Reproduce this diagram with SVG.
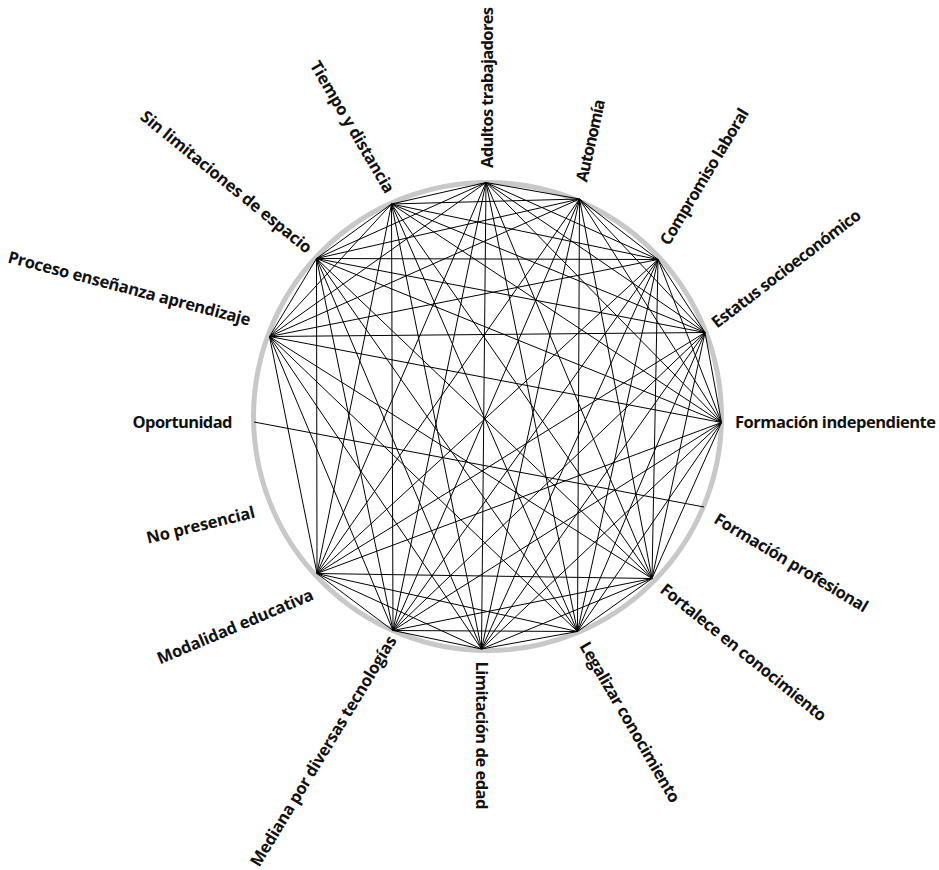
<svg xmlns="http://www.w3.org/2000/svg" width="939" height="870" viewBox="0 0 939 870">
<style>
.bg{fill:#fff}
.ring{fill:none;stroke:#c8c8c8;stroke-width:5}
.e line{stroke:#000;stroke-width:1;fill:none}
.lbl{font-family:"Open Sans","Liberation Sans",sans-serif;font-weight:700;font-size:16.5px;fill:#111;text-anchor:middle}
</style>
<rect class="bg" x="0" y="0" width="939" height="870"/>
<circle class="ring" cx="487.5" cy="416.5" r="234"/>
<g id="connectors" class="e">
<line x1="486" y1="182.5" x2="579.5" y2="199"/>
<line x1="486" y1="182.5" x2="658" y2="259.5"/>
<line x1="486" y1="182.5" x2="705" y2="332.5"/>
<line x1="486" y1="182.5" x2="721.5" y2="422.5"/>
<line x1="486" y1="182.5" x2="652" y2="578.5"/>
<line x1="486" y1="182.5" x2="577.5" y2="631.5"/>
<line x1="486" y1="182.5" x2="481.5" y2="649"/>
<line x1="486" y1="182.5" x2="393" y2="630.5"/>
<line x1="486" y1="182.5" x2="317" y2="573.5"/>
<line x1="486" y1="182.5" x2="269.5" y2="336.5"/>
<line x1="486" y1="182.5" x2="316.5" y2="258.5"/>
<line x1="486" y1="182.5" x2="391.5" y2="204"/>
<line x1="579.5" y1="199" x2="658" y2="259.5"/>
<line x1="579.5" y1="199" x2="705" y2="332.5"/>
<line x1="579.5" y1="199" x2="721.5" y2="422.5"/>
<line x1="579.5" y1="199" x2="652" y2="578.5"/>
<line x1="579.5" y1="199" x2="577.5" y2="631.5"/>
<line x1="579.5" y1="199" x2="481.5" y2="649"/>
<line x1="579.5" y1="199" x2="393" y2="630.5"/>
<line x1="579.5" y1="199" x2="317" y2="573.5"/>
<line x1="579.5" y1="199" x2="269.5" y2="336.5"/>
<line x1="579.5" y1="199" x2="316.5" y2="258.5"/>
<line x1="579.5" y1="199" x2="391.5" y2="204"/>
<line x1="658" y1="259.5" x2="705" y2="332.5"/>
<line x1="658" y1="259.5" x2="721.5" y2="422.5"/>
<line x1="658" y1="259.5" x2="652" y2="578.5"/>
<line x1="658" y1="259.5" x2="577.5" y2="631.5"/>
<line x1="658" y1="259.5" x2="481.5" y2="649"/>
<line x1="658" y1="259.5" x2="393" y2="630.5"/>
<line x1="658" y1="259.5" x2="317" y2="573.5"/>
<line x1="658" y1="259.5" x2="269.5" y2="336.5"/>
<line x1="658" y1="259.5" x2="316.5" y2="258.5"/>
<line x1="658" y1="259.5" x2="391.5" y2="204"/>
<line x1="705" y1="332.5" x2="721.5" y2="422.5"/>
<line x1="705" y1="332.5" x2="652" y2="578.5"/>
<line x1="705" y1="332.5" x2="577.5" y2="631.5"/>
<line x1="705" y1="332.5" x2="481.5" y2="649"/>
<line x1="705" y1="332.5" x2="393" y2="630.5"/>
<line x1="705" y1="332.5" x2="317" y2="573.5"/>
<line x1="705" y1="332.5" x2="269.5" y2="336.5"/>
<line x1="705" y1="332.5" x2="316.5" y2="258.5"/>
<line x1="705" y1="332.5" x2="391.5" y2="204"/>
<line x1="721.5" y1="422.5" x2="652" y2="578.5"/>
<line x1="721.5" y1="422.5" x2="577.5" y2="631.5"/>
<line x1="721.5" y1="422.5" x2="481.5" y2="649"/>
<line x1="721.5" y1="422.5" x2="393" y2="630.5"/>
<line x1="721.5" y1="422.5" x2="317" y2="573.5"/>
<line x1="721.5" y1="422.5" x2="269.5" y2="336.5"/>
<line x1="721.5" y1="422.5" x2="316.5" y2="258.5"/>
<line x1="721.5" y1="422.5" x2="391.5" y2="204"/>
<line x1="652" y1="578.5" x2="577.5" y2="631.5"/>
<line x1="652" y1="578.5" x2="481.5" y2="649"/>
<line x1="652" y1="578.5" x2="393" y2="630.5"/>
<line x1="652" y1="578.5" x2="317" y2="573.5"/>
<line x1="652" y1="578.5" x2="269.5" y2="336.5"/>
<line x1="652" y1="578.5" x2="316.5" y2="258.5"/>
<line x1="652" y1="578.5" x2="391.5" y2="204"/>
<line x1="577.5" y1="631.5" x2="481.5" y2="649"/>
<line x1="577.5" y1="631.5" x2="393" y2="630.5"/>
<line x1="577.5" y1="631.5" x2="317" y2="573.5"/>
<line x1="577.5" y1="631.5" x2="269.5" y2="336.5"/>
<line x1="577.5" y1="631.5" x2="316.5" y2="258.5"/>
<line x1="577.5" y1="631.5" x2="391.5" y2="204"/>
<line x1="481.5" y1="649" x2="393" y2="630.5"/>
<line x1="481.5" y1="649" x2="317" y2="573.5"/>
<line x1="481.5" y1="649" x2="269.5" y2="336.5"/>
<line x1="481.5" y1="649" x2="316.5" y2="258.5"/>
<line x1="481.5" y1="649" x2="391.5" y2="204"/>
<line x1="393" y1="630.5" x2="317" y2="573.5"/>
<line x1="393" y1="630.5" x2="269.5" y2="336.5"/>
<line x1="393" y1="630.5" x2="316.5" y2="258.5"/>
<line x1="393" y1="630.5" x2="391.5" y2="204"/>
<line x1="317" y1="573.5" x2="269.5" y2="336.5"/>
<line x1="317" y1="573.5" x2="316.5" y2="258.5"/>
<line x1="317" y1="573.5" x2="391.5" y2="204"/>
<line x1="269.5" y1="336.5" x2="316.5" y2="258.5"/>
<line x1="269.5" y1="336.5" x2="391.5" y2="204"/>
<line x1="316.5" y1="258.5" x2="391.5" y2="204"/>
<line x1="254" y1="422" x2="704" y2="507"/>
</g>
<g id="adultos-trabajadores"><text class="lbl" transform="translate(487.7,87.5) rotate(-90)" dy="0.3em" textLength="161">Adultos trabajadores</text></g>
<g id="autonomia"><text class="lbl" transform="translate(591.3,140.8) rotate(-77.4)" dy="0.3em" textLength="84">Autonomía</text></g>
<g id="compromiso-laboral"><text class="lbl" transform="translate(705,177) rotate(-59)" dy="0.3em" textLength="156">Compromiso laboral</text></g>
<g id="estatus-socioeconomico"><text class="lbl" transform="translate(786.7,269.2) rotate(-37.5)" dy="0.3em" textLength="183">Estatus socioeconómico</text></g>
<g id="formacion-independiente"><text class="lbl" transform="translate(835.5,423.4)" dy="0.3em" textLength="201">Formación independiente</text></g>
<g id="formacion-profesional"><text class="lbl" transform="translate(790.8,563.3) rotate(30.9)" dy="0.3em" textLength="176">Formación profesional</text></g>
<g id="fortalece-en-conocimiento"><text class="lbl" transform="translate(743,653) rotate(39)" dy="0.3em" textLength="208">Fortalece en conocimiento</text></g>
<g id="legalizar-conocimiento"><text class="lbl" transform="translate(629.2,722.5) rotate(59.8)" dy="0.3em" textLength="183">Legalizar conocimiento</text></g>
<g id="limitacion-de-edad"><text class="lbl" transform="translate(481,735.5) rotate(90)" dy="0.3em" textLength="148">Limitación de edad</text></g>
<g id="mediana-por-diversas-tecnologias"><text class="lbl" transform="translate(324,751.5) rotate(-58.8)" dy="0.3em" textLength="266">Mediana por diversas tecnologías</text></g>
<g id="modalidad-educativa"><text class="lbl" transform="translate(235.5,627.2) rotate(-22.9)" dy="0.3em" textLength="168">Modalidad educativa</text></g>
<g id="no-presencial"><text class="lbl" transform="translate(200.8,525.8) rotate(-13.8)" dy="0.3em" textLength="111">No presencial</text></g>
<g id="oportunidad"><text class="lbl" transform="translate(182.5,422.7)" dy="0.3em" textLength="100">Oportunidad</text></g>
<g id="proceso-ensenanza-aprendizaje"><text class="lbl" transform="translate(129.2,289.2) rotate(14.7)" dy="0.3em" textLength="250">Proceso enseñanza aprendizaje</text></g>
<g id="sin-limitaciones-de-espacio"><text class="lbl" transform="translate(225.8,182.5) rotate(39.1)" dy="0.3em" textLength="215">Sin limitaciones de espacio</text></g>
<g id="tiempo-y-distancia"><text class="lbl" transform="translate(351.7,127.5) rotate(59.6)" dy="0.3em" textLength="150">Tiempo y distancia</text></g>
</svg>
